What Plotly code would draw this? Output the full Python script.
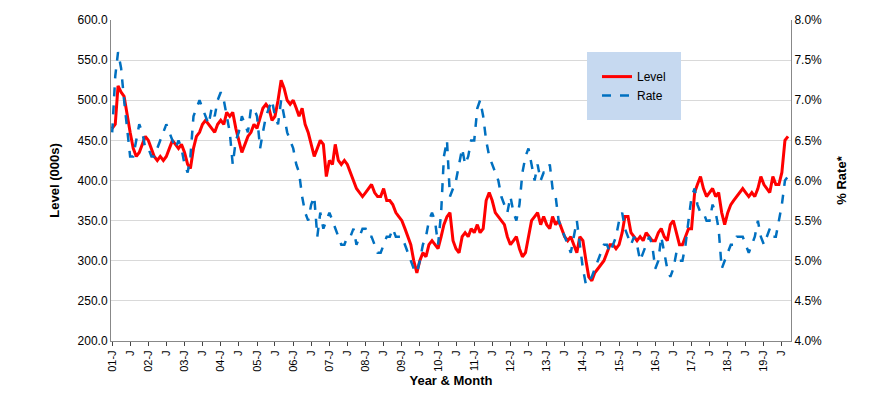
import plotly.graph_objects as go
import pandas as pd

level = [465,470,518,510,505,480,460,440,430,435,445,455,
         450,440,430,425,430,425,430,440,450,445,440,445,
         435,420,415,440,455,460,470,475,470,465,460,470,
         475,470,485,480,485,465,450,435,445,455,460,470,
         465,480,490,495,490,475,480,500,525,515,500,495,
         500,490,480,490,470,460,445,430,440,450,445,405,
         425,420,445,425,420,425,420,410,400,390,385,380,
         385,390,395,385,380,380,390,375,375,370,360,355,
         350,340,330,320,300,285,300,310,305,320,325,320,
         315,330,345,355,360,325,315,310,330,335,330,340,
         335,345,335,340,375,385,375,360,355,350,345,330,
         320,325,330,315,305,310,330,350,355,360,345,355,
         345,340,355,345,350,340,330,325,330,320,310,330,
         325,300,280,275,285,290,295,300,310,320,320,315,
         320,335,355,355,335,330,325,330,325,335,330,325,
         325,335,340,330,325,345,350,335,320,320,330,340,
         340,385,395,405,390,380,385,390,380,385,360,345,
         360,370,375,380,385,390,385,380,385,380,390,405,
         395,390,385,405,395,395,410,450,455]
rate = [6.6,7.3,7.6,7.4,7.0,6.6,6.3,6.3,6.5,6.7,6.6,6.4,
        6.4,6.3,6.3,6.4,6.5,6.6,6.7,6.6,6.5,6.4,6.5,6.4,
        6.2,6.1,6.3,6.8,6.9,7.0,6.9,6.8,6.7,6.9,6.8,7.0,
        7.1,7.0,6.8,6.6,6.2,6.5,6.6,6.8,6.7,6.6,6.9,6.9,
        6.8,6.4,6.6,6.8,6.9,7.0,6.8,6.7,7.0,6.8,6.6,6.5,
        6.4,6.2,6.1,5.8,5.6,5.5,5.7,5.8,5.3,5.6,5.4,5.5,
        5.6,5.5,5.4,5.3,5.2,5.2,5.3,5.3,5.4,5.2,5.3,5.4,
        5.4,5.3,5.3,5.2,5.1,5.1,5.2,5.3,5.3,5.4,5.3,5.3,
        5.3,5.2,5.1,5.0,4.9,4.85,5.0,5.2,5.3,5.5,5.6,5.5,
        5.2,5.6,6.3,6.5,5.8,5.9,6.0,6.2,6.4,6.2,6.3,6.5,
        6.5,6.9,7.0,6.8,6.5,6.3,6.2,6.1,6.0,5.8,5.7,5.6,
        5.8,5.6,5.5,5.7,6.1,6.3,6.4,6.2,6.0,6.2,6.0,6.1,
        6.1,6.2,5.9,5.8,5.5,5.4,5.3,5.2,5.1,5.3,5.5,5.2,
        4.9,4.7,4.75,4.8,4.9,5.0,5.1,5.2,5.2,5.1,5.2,5.3,
        5.5,5.6,5.4,5.3,5.2,5.3,5.2,5.0,5.1,5.2,5.3,5.2,
        4.9,5.0,5.3,5.1,4.9,4.8,4.9,5.1,5.0,5.0,5.2,5.5,
        5.8,5.9,5.7,5.6,5.6,5.5,5.5,5.7,5.6,5.4,4.9,5.0,
        5.1,5.2,5.2,5.3,5.3,5.3,5.2,5.1,5.2,5.3,5.5,5.3,
        5.2,5.3,5.4,5.3,5.3,5.5,5.7,6.0,6.05]
dates = pd.date_range("2001-01-01", periods=len(level), freq="MS")
tick_dates = pd.date_range("2001-01-01", "2019-07-01", freq="6MS")
tick_text = [f"{d.year % 100:02d}-J" if d.month == 1 else "J" for d in tick_dates]

font = "Liberation Sans"
fig = go.Figure()
fig.add_trace(go.Scatter(x=dates, y=level, name="Level", line=dict(color="#ff0000", width=3)))
fig.add_trace(go.Scatter(x=dates, y=rate, name="Rate", yaxis="y2",
                         line=dict(color="#0070c0", width=2.5, dash="dash")))
fig.update_layout(
    width=870, height=401, margin=dict(l=103, r=87, t=12, b=68),
    plot_bgcolor="white", paper_bgcolor="white",
    font=dict(family=font, size=12, color="#000"),
    xaxis=dict(tickvals=tick_dates, ticktext=tick_text, tickangle=-90,
               range=["2000-12-20", "2019-10-01"], showgrid=False, automargin=False,
               showline=True, linecolor="#888", ticks="outside", ticklen=4,
               title=dict(text="<b>Year & Month</b>", font=dict(size=13), standoff=5),
               tickfont=dict(size=11)),
    yaxis=dict(range=[200, 600], dtick=50, tickformat=".1f", gridcolor="#d9d9d9",
               showline=True, linecolor="#888", automargin=False,
               title=dict(text="<b>Level (000s)</b>", font=dict(size=13))),
    yaxis2=dict(range=[4, 8], dtick=0.5, tickformat=".1f", ticksuffix="%", automargin=False,
                overlaying="y", side="right", showgrid=False, showline=True, linecolor="#888",
                title=dict(text="<b>% Rate*</b>", font=dict(size=13))),
    legend=dict(x=0.70, y=0.90, xanchor="left", yanchor="top", bgcolor="#c6d9f0",
                bordercolor="#c6d9f0", borderwidth=10, font=dict(size=12)),
)
fig.write_html("out.html")
